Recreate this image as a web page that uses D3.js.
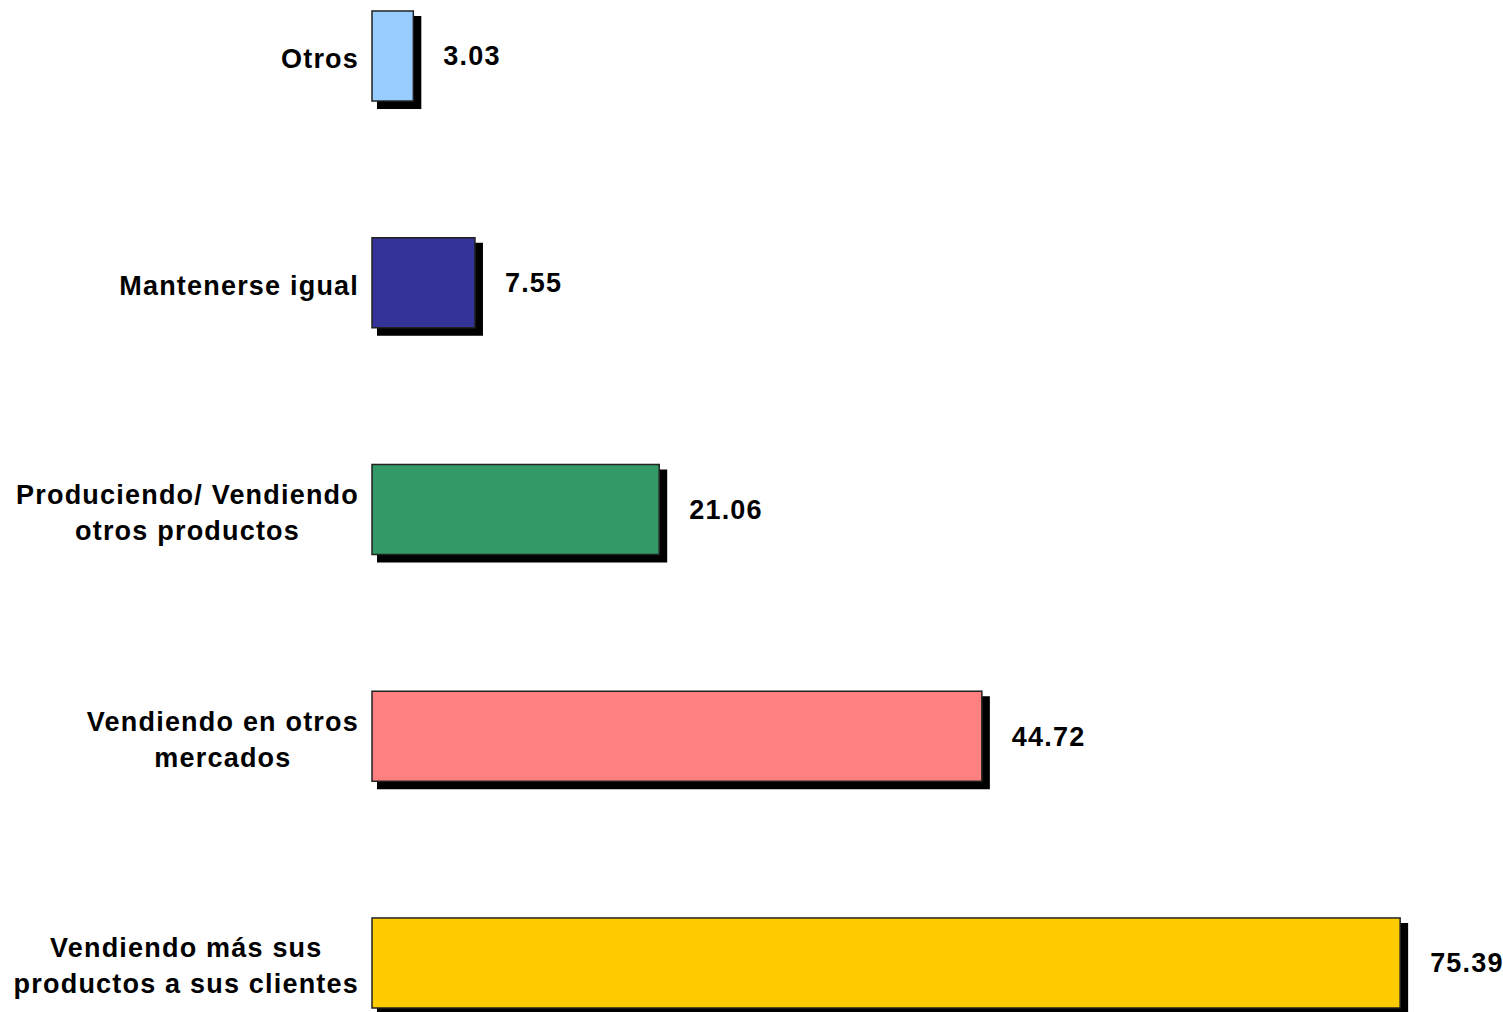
<!DOCTYPE html>
<html lang="es">
<head>
<meta charset="utf-8">
<script src="https://d3js.org/d3.v7.min.js"></script>
<style>
  body { margin: 0; background: #fff; }
  text { font-family: "Liberation Sans", Arial, sans-serif; font-weight: bold; fill: #000; letter-spacing: 1.2px; }
</style>
</head>
<body>
<svg width="1503" height="1012"></svg>
<script>
// data, top to bottom
var categories = [
  ["Otros"],
  ["Mantenerse igual"],
  ["Produciendo/ Vendiendo", "otros productos"],
  ["Vendiendo en otros", "mercados"],
  ["Vendiendo más sus", "productos a sus clientes"]
];
var values = [3.03, 7.55, 21.06, 44.72, 75.39];
var colors = ["#99ccff", "#333399", "#339966", "#ff8080", "#ffcc00"];

var svg = d3.select("svg");

var x = d3.scaleLinear().domain([0, 80]).range([372, 1463]);
var y = d3.scaleBand().domain(d3.range(values.length))
    .range([11, 1008]).paddingInner(0.603).paddingOuter(0);

var g = svg.selectAll(".bar")
  .data(values)
  .enter().append("g")
    .attr("class", "bar");

// shadow
g.append("rect")
    .attr("x", x(0) + 5)
    .attr("y", function(d, i) { return y(i) + 5; })
    .attr("width", function(d) { return x(d) - x(0) + 3; })
    .attr("height", y.bandwidth() + 3)
    .attr("fill", "#000");

g.append("rect")
    .attr("x", x(0))
    .attr("y", function(d, i) { return y(i); })
    .attr("width", function(d) { return x(d) - x(0); })
    .attr("height", y.bandwidth())
    .attr("fill", function(d, i) { return colors[i]; })
    .attr("stroke", "#222")
    .attr("stroke-width", 1.5);

// value labels
g.append("text")
    .attr("x", function(d) { return x(d) + 30; })
    .attr("y", function(d, i) { return y(i) + y.bandwidth() / 2; })
    .attr("dy", "0.35em")
    .style("font-size", "27px")
    .text(function(d) { return d.toFixed(2); });

// category labels, centered block with right edge near the bars
var lineH = 36, rightEdge = 359;
categories.forEach(function(lines, i) {
  var cy = y(i) + y.bandwidth() / 2 + 3;
  var t = svg.append("text").style("font-size", "27px").attr("text-anchor", "middle");
  var spans = lines.map(function(l, k) {
    return t.append("tspan")
      .attr("y", cy + (k - (lines.length - 1) / 2) * lineH)
      .attr("dy", "0.35em")
      .text(l);
  });
  var w = d3.max(spans, function(s) { return s.node().getComputedTextLength(); });
  spans.forEach(function(s) { s.attr("x", rightEdge - w / 2); });
});
</script>
</body>
</html>
